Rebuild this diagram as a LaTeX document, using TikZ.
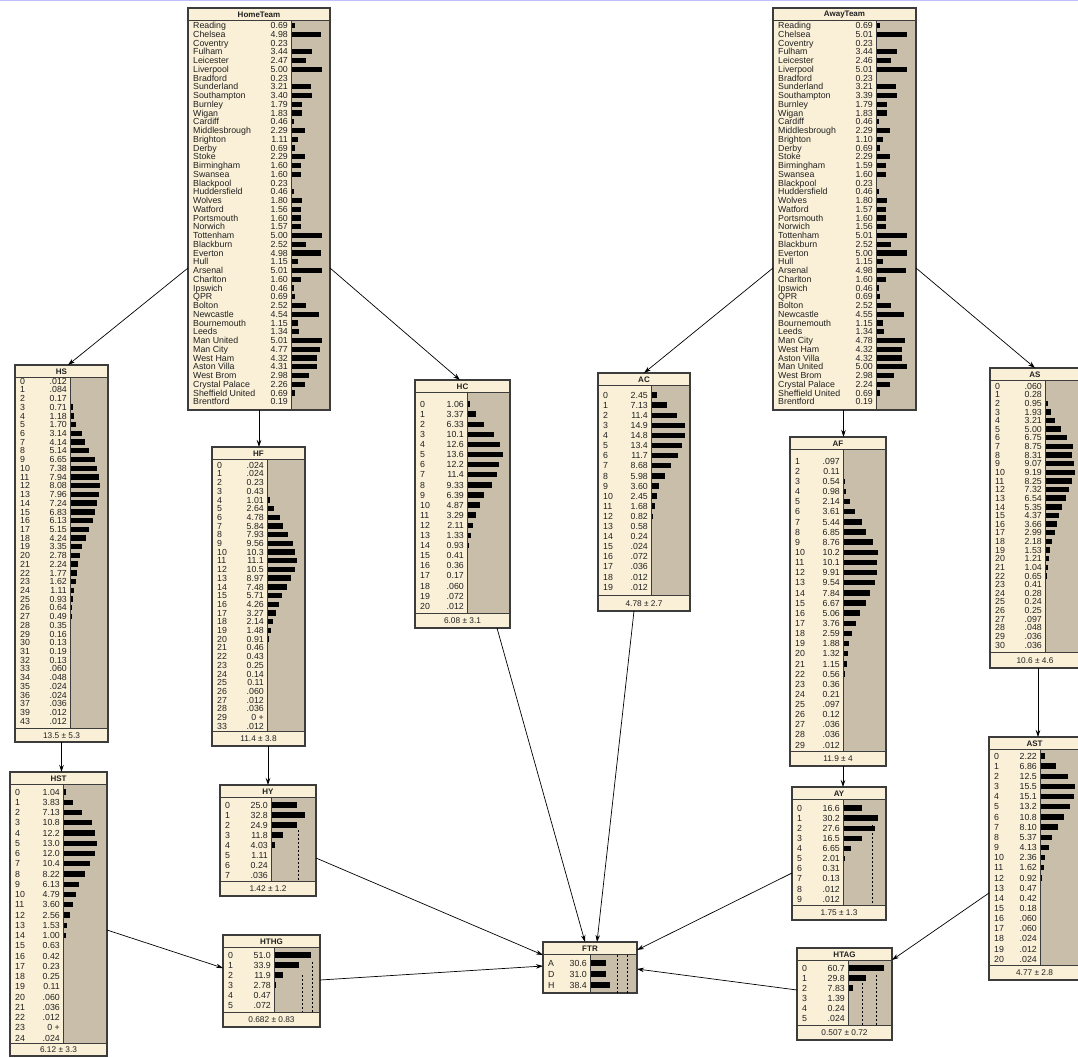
\documentclass[tikz,border=0pt]{standalone}
\usepackage{fontspec}
\setmainfont{Liberation Sans}
\usetikzlibrary{arrows.meta}
\definecolor{cream}{HTML}{FAF0D7}
\definecolor{tanbg}{HTML}{C8BEA9}
\definecolor{boxline}{HTML}{3C3C3C}
\definecolor{txt}{HTML}{202020}

\pgfkeys{/nb/.cd,
 name/.store in=\nbName, title/.store in=\nbTitle,
 L/.store in=\nbL, R/.store in=\nbR, T/.store in=\nbT, B/.store in=\nbB,
 FL/.store in=\nbFL, D/.store in=\nbD, Y/.store in=\nbY, S/.store in=\nbS, K/.store in=\nbK,
 footer/.store in=\nbFoot, rows/.store in=\nbRows}
\def\zpstr{0 +}

\tikzset{
 nbox/.style={fill=cream, anchor=north west, inner sep=0pt, outer sep=0pt},
 rowtext/.style={inner sep=0pt, text=txt, font=\fontsize{8.8}{9}\selectfont},
 titletext/.style={inner sep=0pt, text=txt, font=\bfseries\fontsize{8}{9}\selectfont},
 foottext/.style={inner sep=0pt, text=txt, font=\fontsize{8.3}{9}\selectfont},
 thinline/.style={draw=boxline, line width=0.9pt},
 outline/.style={draw=boxline, line width=1.3pt},
 arr/.style={draw=black, line width=0.7pt, -{Stealth[length=7pt,width=4.5pt]}},
 dline/.style={draw=black, line width=0.7pt, dash pattern=on 2pt off 2pt}
}

\newcommand\netbox[1]{%
  \pgfkeys{/nb/.cd,footer={},#1}%
  \pgfmathsetmacro\nbW{\nbR-\nbL}%
  \pgfmathsetmacro\nbH{\nbB-\nbT}%
  \node[nbox, minimum width=\nbW pt, minimum height=\nbH pt] (\nbName) at (\nbL,\nbT) {};
  \fill[tanbg] ({\nbD},{\nbT+12.5}) rectangle ({\nbR},{\nbFL});
  \node[titletext] (\nbName-title) at ({(\nbL+\nbR)/2},{\nbT+6.5}) {\nbTitle};
  \foreach \lab/\val [count=\i from 0] in \nbRows {
    \pgfmathsetmacro\ry{\nbY+\i*\nbS}
    \node[rowtext, anchor=base west] (\nbName-l\i) at ({\nbL+5},{\ry+3.2}) {\lab};
    \node[rowtext, anchor=base east] (\nbName-v\i) at ({\nbD-3},{\ry+3.2}) {\val};
    \edef\vv{\val}%
    \ifx\vv\zpstr\else
      \pgfmathsetmacro\bw{\val*\nbK}%
      \pgfmathparse{\bw>1.75?1:0}%
      \ifnum\pgfmathresult=1
        \fill[black] ({\nbD},{\ry-2.7}) rectangle ({\nbD+\bw},{\ry+2.7});
      \fi
    \fi
  }
  \draw[thinline] ({\nbD},{\nbT+12.5}) -- ({\nbD},{\nbFL});
  \draw[thinline] ({\nbL},{\nbT+12.5}) -- ({\nbR},{\nbT+12.5});
  \ifx\nbFoot\empty\else
    \draw[thinline] ({\nbL},{\nbFL}) -- ({\nbR},{\nbFL});
    \node[foottext] (\nbName-foot) at ({(\nbL+\nbR)/2},{(\nbFL+\nbB)/2+0.5}) {\nbFoot};
  \fi
  \draw[outline] (\nbName.north west) rectangle (\nbName.south east);
}

\begin{document}
\begin{tikzpicture}[x=1pt,y=-1pt]
\useasboundingbox (0,0) rectangle (1078,1057);
\fill[white] (0,0) rectangle (1078,1057);
\clip (0,0) rectangle (1078,1057);
\fill[blue!25] (0,0) rectangle (1078,1.5);

\netbox{name=HomeTeam, title=HomeTeam, L=188, R=330, T=8, B=410, FL=410, D=291, Y=25.5, S=8.75, K=6.1,
 rows={Reading/0.69, Chelsea/4.98, Coventry/0.23, Fulham/3.44, Leicester/2.47, Liverpool/5.00, Bradford/0.23, Sunderland/3.21, Southampton/3.40, Burnley/1.79, Wigan/1.83, Cardiff/0.46, Middlesbrough/2.29, Brighton/1.11, Derby/0.69, Stoke/2.29, Birmingham/1.60, Swansea/1.60, Blackpool/0.23, Huddersfield/0.46, Wolves/1.80, Watford/1.56, Portsmouth/1.60, Norwich/1.57, Tottenham/5.00, Blackburn/2.52, Everton/4.98, Hull/1.15, Arsenal/5.01, Charlton/1.60, Ipswich/0.46, QPR/0.69, Bolton/2.52, Newcastle/4.54, Bournemouth/1.15, Leeds/1.34, Man United/5.01, Man City/4.77, West Ham/4.32, Aston Villa/4.31, West Brom/2.98, Crystal Palace/2.26, Sheffield United/0.69, Brentford/0.19}}

\netbox{name=AwayTeam, title=AwayTeam, L=773, R=916, T=8, B=410, FL=410, D=876, Y=25.5, S=8.75, K=6.1,
 rows={Reading/0.69, Chelsea/5.01, Coventry/0.23, Fulham/3.44, Leicester/2.46, Liverpool/5.01, Bradford/0.23, Sunderland/3.21, Southampton/3.39, Burnley/1.79, Wigan/1.83, Cardiff/0.46, Middlesbrough/2.29, Brighton/1.10, Derby/0.69, Stoke/2.29, Birmingham/1.59, Swansea/1.60, Blackpool/0.23, Huddersfield/0.46, Wolves/1.80, Watford/1.57, Portsmouth/1.60, Norwich/1.56, Tottenham/5.01, Blackburn/2.52, Everton/5.00, Hull/1.15, Arsenal/4.98, Charlton/1.60, Ipswich/0.46, QPR/0.69, Bolton/2.52, Newcastle/4.55, Bournemouth/1.15, Leeds/1.34, Man City/4.78, West Ham/4.32, Aston Villa/4.32, Man United/5.00, West Brom/2.98, Crystal Palace/2.24, Sheffield United/0.69, Brentford/0.19}}

\netbox{name=HS, title=HS, L=15, R=108, T=365, B=742, FL=728, D=70, Y=381, S=8.72, K=3.7, footer={13.5 ± 5.3},
 rows={0/.012, 1/.084, 2/0.17, 3/0.71, 4/1.18, 5/1.70, 6/3.14, 7/4.14, 8/5.14, 9/6.65, 10/7.38, 11/7.94, 12/8.08, 13/7.96, 14/7.24, 15/6.83, 16/6.13, 17/5.15, 18/4.24, 19/3.35, 20/2.78, 21/2.24, 22/1.77, 23/1.62, 24/1.11, 25/0.93, 26/0.64, 27/0.49, 28/0.35, 29/0.16, 30/0.13, 31/0.19, 32/0.13, 33/.060, 34/.048, 35/.024, 36/.024, 37/.036, 39/.012, 43/.012}}

\netbox{name=HF, title=HF, L=212, R=305, T=447, B=746, FL=731, D=267, Y=465, S=8.7, K=2.7, footer={11.4 ± 3.8},
 rows={0/.024, 1/.024, 2/0.23, 3/0.43, 4/1.01, 5/2.64, 6/4.78, 7/5.84, 8/7.93, 9/9.56, 10/10.3, 11/11.1, 12/10.5, 13/8.97, 14/7.48, 15/5.71, 16/4.26, 17/3.27, 18/2.14, 19/1.48, 20/0.91, 21/0.46, 22/0.43, 23/0.25, 24/0.14, 25/0.11, 26/.060, 27/.012, 28/.036, 29/0 +, 33/.012}}

\netbox{name=HC, title=HC, L=415, R=510, T=380, B=628, FL=613, D=467, Y=404, S=10.1, K=2.63, footer={6.08 ± 3.1},
 rows={0/1.06, 1/3.37, 2/6.33, 3/10.1, 4/12.6, 5/13.6, 6/12.2, 7/11.4, 8/9.33, 9/6.39, 10/4.87, 11/3.29, 12/2.11, 13/1.33, 14/0.93, 15/0.41, 16/0.36, 17/0.17, 18/.060, 19/.072, 20/.012}}

\netbox{name=AC, title=AC, L=598, R=690, T=373, B=611, FL=595, D=651, Y=395, S=10.1, K=2.3, footer={4.78 ± 2.7},
 rows={0/2.45, 1/7.13, 2/11.4, 3/14.9, 4/14.8, 5/13.4, 6/11.7, 7/8.68, 8/5.98, 9/3.60, 10/2.45, 11/1.68, 12/0.82, 13/0.58, 14/0.24, 15/.024, 16/.072, 17/.036, 18/.012, 19/.012}}

\netbox{name=AF, title=AF, L=790, R=886, T=437, B=766, FL=751, D=843, Y=461, S=10.14, K=3.4, footer={11.9 ± 4},
 rows={1/.097, 2/0.11, 3/0.54, 4/0.98, 5/2.14, 6/3.61, 7/5.44, 8/6.85, 9/8.76, 10/10.2, 11/10.1, 12/9.91, 13/9.54, 14/7.84, 15/6.67, 16/5.06, 17/3.76, 18/2.59, 19/1.88, 20/1.32, 21/1.15, 22/0.56, 23/0.36, 24/0.21, 25/.097, 26/0.12, 27/.036, 28/.036, 29/.012}}

\netbox{name=AS, title=AS, L=990, R=1080, T=368, B=668, FL=652, D=1045, Y=386, S=8.63, K=3.22, footer={10.6 ± 4.6},
 rows={0/.060, 1/0.28, 2/0.95, 3/1.93, 4/3.21, 5/5.00, 6/6.75, 7/8.75, 8/8.31, 9/9.07, 10/9.19, 11/8.25, 12/7.32, 13/6.54, 14/5.35, 15/4.37, 16/3.66, 17/2.99, 18/2.18, 19/1.53, 20/1.21, 21/1.04, 22/0.65, 23/0.41, 24/0.28, 25/0.24, 26/0.25, 27/.097, 28/.048, 29/.036, 30/.036}}

\netbox{name=HST, title=HST, L=10, R=107, T=772, B=1056, FL=1043, D=63, Y=792, S=10.25, K=2.64, footer={6.12 ± 3.3},
 rows={0/1.04, 1/3.83, 2/7.13, 3/10.8, 4/12.2, 5/13.0, 6/12.0, 7/10.4, 8/8.22, 9/6.13, 10/4.79, 11/3.60, 12/2.56, 13/1.53, 14/1.00, 15/0.63, 16/0.42, 17/0.23, 18/0.25, 19/0.11, 20/.060, 21/.036, 22/.012, 23/0 +, 24/.024}}

\netbox{name=AST, title=AST, L=989, R=1080, T=737, B=980, FL=965, D=1040, Y=756, S=10.15, K=2.26, footer={4.77 ± 2.8},
 rows={0/2.22, 1/6.86, 2/12.5, 3/15.5, 4/15.1, 5/13.2, 6/10.8, 7/8.10, 8/5.37, 9/4.13, 10/2.36, 11/1.62, 12/0.92, 13/0.47, 14/0.42, 15/0.18, 16/.060, 17/.060, 18/.024, 19/.012, 20/.024}}

\netbox{name=HY, title=HY, L=220, R=316, T=785, B=896, FL=881, D=271, Y=805, S=10, K=1.03, footer={1.42 ± 1.2},
 rows={0/25.0, 1/32.8, 2/24.9, 3/11.8, 4/4.03, 5/1.11, 6/0.24, 7/.036}}
\draw[dline] (298,830) -- (298,881);

\netbox{name=HTHG, title=HTHG, L=223, R=320, T=935, B=1027, FL=1012, D=274, Y=955, S=10, K=0.73, footer={0.682 ± 0.83},
 rows={0/51.0, 1/33.9, 2/11.9, 3/2.78, 4/0.47, 5/.072}}
\draw[dline] (302,975) -- (302,1012);
\draw[dline] (312,962) -- (312,1012);

\netbox{name=FTR, title=FTR, L=543, R=637, T=942, B=993, FL=993, D=590, Y=963, S=11, K=0.52,
 rows={A/30.6, D/31.0, H/38.4}}
\draw[dline] (617,955) -- (617,993);
\draw[dline] (627,955) -- (627,993);

\netbox{name=AY, title=AY, L=792, R=886, T=787, B=920, FL=905, D=843, Y=808, S=10.1, K=1.16, footer={1.75 ± 1.3},
 rows={0/16.6, 1/30.2, 2/27.6, 3/16.5, 4/6.65, 5/2.01, 6/0.31, 7/0.13, 8/.012, 9/.012}}
\draw[dline] (872,825) -- (872,905);

\netbox{name=HTAG, title=HTAG, L=797, R=892, T=948, B=1040, FL=1025, D=848, Y=968, S=10, K=0.6, footer={0.507 ± 0.72},
 rows={0/60.7, 1/29.8, 2/7.83, 3/1.39, 4/0.24, 5/.024}}
\draw[dline] (862,975) -- (862,1025);
\draw[dline] (876,975) -- (876,1025);

% connectors
\draw[arr] ([yshift=-59pt]HomeTeam.west) -- ([xshift=6.5pt]HS.north);
\draw[arr] (HomeTeam.south) -- (HomeTeam.south |- HF.north);
\draw[arr] ([yshift=-59pt]HomeTeam.east) -- ([xshift=-2.5pt]HC.north);
\draw[arr] ([yshift=-59pt]AwayTeam.west) -- (AC.north);
\draw[arr] ([xshift=-1pt]AwayTeam.south) -- ([xshift=-1pt]AwayTeam.south |- AF.north);
\draw[arr] ([yshift=-59pt]AwayTeam.east) -- (AS.north);
\draw[arr] (HS.south) -- (HS.south |- HST.north);
\draw[arr] (HF.south -| HY.north) -- (HY.north);
\draw[arr] ([xshift=5pt]AF.south) -- ([xshift=5pt]AF.south |- AY.north);
\draw[arr] ([xshift=3pt]AS.south) -- ([xshift=3pt]AS.south |- AST.north);
\draw[arr] ([xshift=34.5pt]HC.south) -- ([xshift=-5pt]FTR.north);
\draw[arr] ([xshift=-10pt]AC.south) -- ([xshift=7pt]FTR.north);
\draw[arr] ([yshift=-17.5pt]HY.east) -- ([yshift=12.5pt]FTR.west);
\draw[arr] ([yshift=-19.5pt]AY.west) -- ([yshift=17.5pt]FTR.east);
\draw[arr] ([yshift=-16pt]HST.east) -- ([yshift=13pt]HTHG.west);
\draw[arr] ([yshift=1pt]HTHG.east) -- ([yshift=1.5pt]FTR.west);
\draw[arr] ([yshift=4pt]HTAG.west) -- ([yshift=-1.5pt]FTR.east);
\draw[arr] ([yshift=-34.5pt]AST.west) -- ([yshift=34pt]HTAG.east);
\end{tikzpicture}
\end{document}
